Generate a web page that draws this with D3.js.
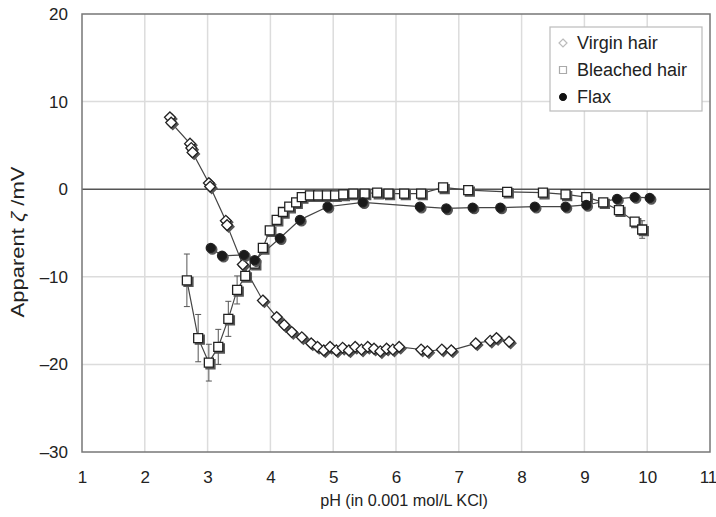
<!DOCTYPE html>
<html><head><meta charset="utf-8">
<script src="https://cdn.jsdelivr.net/npm/d3@7"></script>
<style>body{margin:0;background:#fff}svg{display:block;font-family:"Liberation Sans",Arial,sans-serif}</style>
</head><body><svg id="c" width="716" height="517"></svg>
<script>
const xTicks = [1,2,3,4,5,6,7,8,9,10,11];
const yTicks = [20,10,0,-10,-20,-30];
const seriesNames = ["Virgin hair","Bleached hair","Flax"];

const virginX = [2.40,2.42,2.72,2.74,2.76,3.02,3.04,3.29,3.31,3.56,3.88,4.10,4.22,4.34,4.50,4.65,4.75,4.85,4.95,5.05,5.15,5.25,5.35,5.45,5.55,5.65,5.75,5.85,5.95,6.05,6.40,6.50,6.73,6.88,7.27,7.50,7.60,7.80];
const virginY = [8.2,7.6,5.2,4.7,4.2,0.7,0.3,-3.6,-4.1,-8.6,-12.7,-14.6,-15.5,-16.3,-16.9,-17.6,-18.0,-18.4,-18.0,-18.4,-18.1,-18.4,-18.0,-18.3,-18.0,-18.2,-18.5,-18.2,-18.3,-18.0,-18.3,-18.5,-18.3,-18.4,-17.6,-17.3,-17.0,-17.4];

const bleachedX = [2.67,2.85,3.02,3.17,3.33,3.47,3.60,3.75,3.88,3.99,4.10,4.20,4.30,4.41,4.50,4.63,4.76,4.90,5.03,5.16,5.32,5.50,5.70,5.88,6.13,6.40,6.75,7.15,7.77,8.34,8.70,9.03,9.30,9.55,9.80,9.92];
const bleachedY = [-10.4,-17.0,-19.8,-18.0,-14.8,-11.5,-9.9,-8.5,-6.7,-4.7,-3.5,-2.6,-2.0,-1.5,-0.9,-0.7,-0.7,-0.7,-0.7,-0.6,-0.5,-0.5,-0.4,-0.5,-0.5,-0.5,0.2,-0.1,-0.3,-0.4,-0.6,-0.9,-1.5,-2.4,-3.7,-4.6];
const bleachedErr = [3.0,2.7,2.1,2.0,2.0,1.6,0.7,0.6,0.5,0.4,0.4,0.4,0.4,0.4,0.4,0.4,0.4,0.4,0.4,0.4,0.4,0.4,0.4,0.4,0.4,0.4,0.4,0.4,0.4,0.4,0.4,0.4,0.4,0.5,0.6,1.0];

const flaxX = [3.05,3.23,3.58,3.75,4.15,4.47,4.91,5.47,6.38,6.80,7.22,7.66,8.21,8.70,9.03,9.52,9.80,10.04];
const flaxY = [-6.7,-7.6,-7.5,-8.1,-5.6,-3.5,-2.0,-1.5,-2.0,-2.2,-2.1,-2.1,-2.0,-2.0,-1.8,-1.1,-0.9,-1.0];

const svg = d3.select("#c");
const L=82, R=710, T=14, B=452;
const x = d3.scaleLinear().domain([1,11]).range([L,R]);
const y = d3.scaleLinear().domain([-30,20]).range([B,T]);

svg.append("rect").attr("x",L).attr("y",T).attr("width",R-L).attr("height",B-T).attr("fill","#fff");

// grid
svg.append("g").selectAll("line").data(xTicks.slice(1,-1)).join("line")
  .attr("x1",d=>x(d)).attr("x2",d=>x(d)).attr("y1",T).attr("y2",B)
  .attr("stroke","#dcdcdc").attr("stroke-width",1.5);
svg.append("g").selectAll("line").data(yTicks.filter(d=>d!==0&&d!==20&&d!==-30)).join("line")
  .attr("x1",L).attr("x2",R).attr("y1",d=>y(d)).attr("y2",d=>y(d))
  .attr("stroke","#dcdcdc").attr("stroke-width",1.5);
svg.append("line").attr("x1",L).attr("x2",R).attr("y1",y(0)).attr("y2",y(0)).attr("stroke","#555").attr("stroke-width",1.5);

svg.append("rect").attr("x",L).attr("y",T).attr("width",R-L).attr("height",B-T)
  .attr("fill","none").attr("stroke","#777").attr("stroke-width",1.5);

const xAxis = svg.append("g").attr("transform",`translate(0,${B})`)
  .call(d3.axisBottom(x).tickValues(xTicks).tickSize(0).tickPadding(19).tickFormat(d3.format("d")));
const yAxis = svg.append("g").attr("transform",`translate(${L},0)`)
  .call(d3.axisLeft(y).tickValues(yTicks).tickSize(0).tickPadding(14).tickFormat(d=>d<0?"\u2013"+Math.abs(d):String(d)));
[xAxis,yAxis].forEach(g=>{
  g.select(".domain").remove();
  g.selectAll("text").attr("font-size",17).attr("fill","#222").attr("font-family","Liberation Sans, Arial, sans-serif");
});
xAxis.selectAll(".tick").filter(d=>d===11).select("text").attr("dx",-2);

svg.append("text").attr("x",404).attr("y",506).attr("text-anchor","middle")
  .attr("font-size",16.2).attr("fill","#222").text("pH (in 0.001 mol/L KCl)");
const yl = svg.append("text").attr("transform",`translate(24,242) rotate(-90)`).attr("text-anchor","middle")
  .attr("font-size",18).attr("fill","#222")
  .attr("textLength",151).attr("lengthAdjust","spacingAndGlyphs");
yl.append("tspan").text("Apparent ");
yl.append("tspan").attr("font-style","italic").text("\u03B6");
yl.append("tspan").text(" /mV");

const line = d3.line().x(d=>x(d[0])).y(d=>y(d[1]));
const zip = (a,b)=>a.map((v,i)=>[v,b[i]]);
const vData = zip(virginX,virginY), bData = zip(bleachedX,bleachedY), fData = zip(flaxX,flaxY);

const plot = svg.append("g");
const eb = plot.append("g").attr("stroke","#555").attr("stroke-width",1);
bData.forEach((d,i)=>{
  const e = bleachedErr[i]; if (e<0.8) return;
  const cx = x(d[0]);
  eb.append("line").attr("x1",cx).attr("x2",cx).attr("y1",y(d[1]+e)).attr("y2",y(d[1]-e));
  eb.append("line").attr("x1",cx-3).attr("x2",cx+3).attr("y1",y(d[1]+e)).attr("y2",y(d[1]+e));
  eb.append("line").attr("x1",cx-3).attr("x2",cx+3).attr("y1",y(d[1]-e)).attr("y2",y(d[1]-e));
});

[vData,bData,fData].forEach(data=>{
  plot.append("path").attr("d",line(data)).attr("fill","none").attr("stroke","#444").attr("stroke-width",1.2);
});

const diamond = s=>`M0,${-s}L${s},0L0,${s}L${-s},0Z`;
const square = s=>`M${-s},${-s}H${s}V${s}H${-s}Z`;

function drawMarkers(data, shape, fill){
  const g = plot.append("g");
  g.selectAll(".sh").data(data).join("path").attr("class","sh")
    .attr("transform",d=>`translate(${x(d[0])+1.6},${y(d[1])+1.6})`)
    .attr("d",shape).attr("fill","#555").attr("stroke","#555").attr("stroke-width",1.3);
  g.selectAll(".mk").data(data).join("path").attr("class","mk")
    .attr("transform",d=>`translate(${x(d[0])},${y(d[1])})`)
    .attr("d",shape).attr("fill",fill).attr("stroke","#222").attr("stroke-width",1.3);
}
drawMarkers(vData, diamond(5.4), "#fff");
drawMarkers(bData, square(4.5), "#fff");
drawMarkers(fData, d3.symbol(d3.symbolCircle, 64)(), "#1a1a1a");

// legend
const lg = svg.append("g");
lg.append("rect").attr("x",550).attr("y",27).attr("width",152).attr("height",84)
  .attr("fill","#fff").attr("stroke","#bbb").attr("stroke-width",1.2);
const ly = [43,70,97];
const lshapes = [diamond(4), square(3.5), d3.symbol(d3.symbolCircle, 36)()];
const lfill = ["#fff","#fff","#111"], lstroke = ["#bbb","#aaa","#111"];
seriesNames.forEach((n,i)=>{
  lg.append("path").attr("transform",`translate(563,${ly[i]})`).attr("d",lshapes[i])
    .attr("fill",lfill[i]).attr("stroke",lstroke[i]).attr("stroke-width",1.2);
  lg.append("text").attr("x",577).attr("y",ly[i]+6).attr("font-size",18).attr("fill","#222").text(n);
});
</script></body></html>
